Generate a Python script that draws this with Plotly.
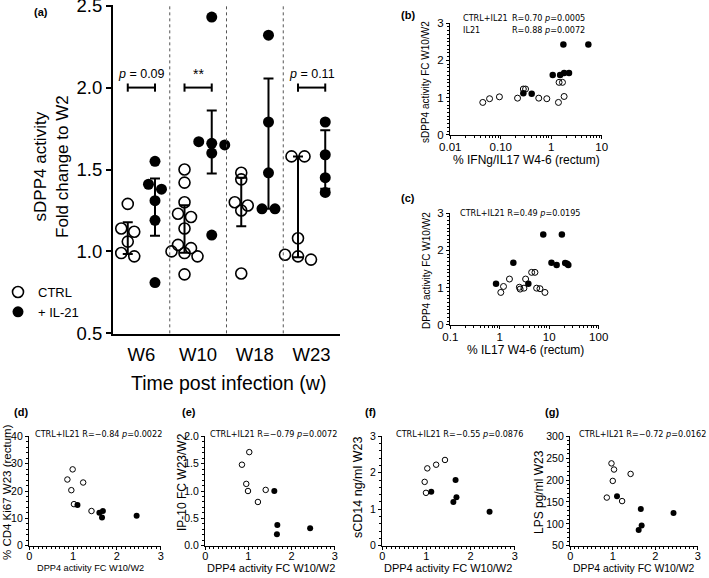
import numpy as np
import plotly.graph_objects as go

W, H = 709, 578

# ---------------- data ----------------
weeks = ["W6", "W10", "W18", "W23"]
a_ctrl = [
    [1.29, 1.14, 1.12, 1.06, 0.99, 0.97],
    [1.50, 1.42, 1.30, 1.23, 1.21, 1.14, 1.04, 1.02, 1.00, 0.99, 0.97, 0.86],
    [1.48, 1.44, 1.30, 1.28, 1.25, 0.865],
    [1.58, 1.58, 1.08, 0.98, 0.97, 0.95],
]
a_il21 = [
    [1.55, 1.41, 1.38, 1.31, 1.19, 0.81],
    [2.43, 1.67, 1.66, 1.65, 1.60, 1.10],
    [2.32, 1.79, 1.48, 1.26, 1.26],
    [1.79, 1.59, 1.45, 1.36],
]
a_sig = ["<i>p</i> = 0.09", "**", None, "<i>p</i> = 0.11"]

b_ctrl_x = [0.044, 0.060, 0.094, 0.215, 0.28, 0.31, 0.566, 0.817, 1.39, 1.43, 1.67, 1.80]
b_ctrl_y = [0.87, 0.97, 1.02, 0.985, 1.23, 1.23, 0.985, 0.97, 0.87, 1.41, 1.41, 1.03]
b_il21_x = [0.28, 0.41, 1.07, 1.50, 1.74, 1.80, 2.25, 5.44]
b_il21_y = [1.12, 1.10, 1.61, 1.61, 2.43, 1.66, 1.66, 2.43]

c_ctrl_x = [1.05, 1.19, 1.57, 2.49, 2.58, 3.08, 3.33, 4.41, 5.14, 5.56, 6.5, 8.19]
c_ctrl_y = [0.87, 1.03, 1.23, 1.01, 0.96, 0.985, 1.23, 1.41, 1.41, 0.985, 0.97, 0.87]
c_il21_x = [0.84, 1.88, 3.78, 7.57, 11.1, 14.1, 18.0, 21.0, 23.0, 24.3]
c_il21_y = [1.10, 1.67, 1.10, 2.43, 1.67, 1.61, 2.43, 1.66, 1.64, 1.61]

d_ctrl_x = [0.87, 0.99, 0.96, 1.02, 1.23, 1.42]
d_ctrl_y = [24.2, 27.9, 20.3, 15.2, 23.1, 12.7]
d_il21_x = [1.10, 1.60, 1.68, 1.66, 2.45]
d_il21_y = [14.9, 12.1, 12.7, 10.3, 11.0]

e_ctrl_x = [0.85, 1.02, 0.95, 0.99, 1.40, 1.22]
e_ctrl_y = [1.48, 1.71, 1.13, 1.00, 1.02, 0.80]
e_il21_x = [1.60, 1.67, 1.66, 2.43]
e_il21_y = [1.00, 0.38, 0.21, 0.32]

f_ctrl_x = [1.02, 1.22, 1.42, 0.96, 0.99]
f_ctrl_y = [2.12, 2.22, 2.35, 1.75, 1.45]
f_il21_x = [1.11, 1.66, 1.68, 1.61, 2.43]
f_il21_y = [1.48, 1.80, 1.33, 1.20, 0.93]

g_ctrl_x = [0.97, 1.03, 1.00, 0.86, 1.42, 1.22]
g_ctrl_y = [238, 224, 198, 160, 214, 152]
g_il21_x = [1.10, 1.66, 1.68, 1.61, 2.43]
g_il21_y = [163, 134, 96, 86, 125]

# ---------------- helpers ----------------
def fx(px):
    return px / W

def fy(py):
    return 1 - py / H

def rng(lo, hi):
    e = (hi - lo) * 0.002
    return [lo - e, hi + e]

ARIAL = "Liberation Sans, Arial, sans-serif"
VERD = "DejaVu Sans, Verdana, sans-serif"

fig = go.Figure()

# ---------------- panel (a) ----------------
A_X0, A_X1 = 113, 340
A_Y0, A_Y1 = 334, 5
px_per_cat = (A_X1 - A_X0) / 4.0
px_per_unit = (A_Y0 - A_Y1) / 2.0
GOFF = 0.24


def swarm(vals):
    """GraphPad-like spreading of points that fall in the same row."""
    order = np.argsort(-np.asarray(vals))
    offs = np.zeros(len(vals))
    groups = []
    for idx in order:
        if groups and (vals[groups[-1][0]] - vals[idx]) * px_per_unit < 5:
            groups[-1].append(idx)
        else:
            groups.append([idx])
    spacing = 13.0 / px_per_cat
    for g in groups:
        k = len(g)
        for j, idx in enumerate(g):
            offs[idx] = (j - (k - 1) / 2) * spacing
    return offs


for i, wk in enumerate(weeks):
    for grp, vals, sign in (("CTRL", a_ctrl[i], -1), ("IL21", a_il21[i], 1)):
        v = np.asarray(vals)
        q1, med, q3 = np.percentile(v, [25, 50, 75], method="weibull")
        fig.add_trace(go.Scatter(
            x=[i + sign * GOFF], y=[med], mode="markers",
            marker=dict(size=1, color="rgba(0,0,0,0)"),
            error_y=dict(type="data", symmetric=False, array=[q3 - med],
                         arrayminus=[med - q1], color="black", thickness=2, width=5),
            showlegend=False, hoverinfo="skip", xaxis="x", yaxis="y"))

for i, wk in enumerate(weeks):
    for grp, vals, sign in (("CTRL", a_ctrl[i], -1), ("IL21", a_il21[i], 1)):
        v = np.asarray(vals)
        xs = i + sign * GOFF + swarm(vals)
        if grp == "CTRL":
            mk = dict(symbol="circle-open", size=11, color="black", line=dict(width=1.6))
            name = "CTRL"
        else:
            mk = dict(symbol="circle", size=11, color="black")
            name = "+ IL-21"
        fig.add_trace(go.Scatter(
            x=xs, y=v, mode="markers", marker=mk, name=name,
            showlegend=(i == 0), legendgroup=grp, xaxis="x", yaxis="y"))

shapes = []
annotations = []
for i in range(1, 4):
    shapes.append(dict(type="line", xref="x", yref="y", x0=i - 0.5, x1=i - 0.5,
                       y0=0.5, y1=2.5, line=dict(color="#555", width=1, dash="dot")))
for i, s in enumerate(a_sig):
    if s is None:
        continue
    xl, xr = i - GOFF, i + GOFF
    shapes.append(dict(type="line", xref="x", yref="y", x0=xl, x1=xr, y0=2.0, y1=2.0,
                       line=dict(color="black", width=2)))
    for xx in (xl, xr):
        shapes.append(dict(type="line", xref="x", yref="y", x0=xx, x1=xx, y0=1.975, y1=2.025,
                           line=dict(color="black", width=2)))
    annotations.append(dict(x=i, y=2.0, xref="x", yref="y", text=s, showarrow=False,
                            yshift=14, yanchor="middle",
                            font=dict(family=ARIAL, size=12.5 if s != "**" else 14,
                                      color="black")))

annotations += [
    dict(x=fx(51), y=fy(167), text="sDPP4 activity<br>Fold change to W2",
         textangle=-90, font=dict(family=ARIAL, size=17)),
    dict(x=fx(228), y=fy(383), text="Time post infection (w)",
         font=dict(family=ARIAL, size=19.5)),
]

# ---------------- scatter panels (b)-(g) ----------------
def add_pair(ax, cx, cy, ix, iy, osz=6, fsz=6.5):
    fig.add_trace(go.Scatter(x=cx, y=cy, mode="markers", showlegend=False,
                             marker=dict(symbol="circle-open", size=osz, color="black", line=dict(width=1)),
                             xaxis="x" + ax, yaxis="y" + ax))
    fig.add_trace(go.Scatter(x=ix, y=iy, mode="markers", showlegend=False,
                             marker=dict(symbol="circle", size=fsz, color="black"),
                             xaxis="x" + ax, yaxis="y" + ax))

add_pair("2", b_ctrl_x, b_ctrl_y, b_il21_x, b_il21_y)
add_pair("3", c_ctrl_x, c_ctrl_y, c_il21_x, c_il21_y)
add_pair("4", d_ctrl_x, d_ctrl_y, d_il21_x, d_il21_y, 5.5, 6)
add_pair("5", e_ctrl_x, e_ctrl_y, e_il21_x, e_il21_y, 5.5, 6)
add_pair("6", f_ctrl_x, f_ctrl_y, f_il21_x, f_il21_y, 5.5, 6)
add_pair("7", g_ctrl_x, g_ctrl_y, g_il21_x, g_il21_y, 5.5, 6)


def small_axis(domain, anchor, fsize, **kw):
    d = dict(domain=domain, anchor=anchor, showline=True, linecolor="black", linewidth=1.2,
             ticks="outside", ticklen=3, tickwidth=1.2, tickcolor="black", showgrid=False,
             zeroline=False, automargin=False, ticklabeloverflow="allow",
             tickfont=dict(family=ARIAL, size=fsize, color="black"))
    d.update(kw)
    return d

layout_axes = dict(
    xaxis=dict(domain=[fx(A_X0), fx(A_X1)], anchor="y", range=[-0.5, 3.5],
               tickvals=[0, 1, 2, 3], ticktext=weeks, showline=True, linecolor="black",
               linewidth=2, ticks="outside", ticklen=3, tickcolor="rgba(0,0,0,0)",
               showgrid=False, zeroline=False, automargin=False, ticklabeloverflow="allow",
               tickfont=dict(family=ARIAL, size=18.5, color="black")),
    yaxis=dict(domain=[fy(A_Y0), fy(A_Y1)], anchor="x", range=rng(0.5, 2.5),
               tickmode="linear", tick0=0.5, dtick=0.5, tickformat=".1f",
               showline=True, linecolor="black", linewidth=2, ticks="outside", ticklen=5,
               tickwidth=2, tickcolor="black", showgrid=False, zeroline=False, automargin=False,
               ticklabeloverflow="allow",
               tickfont=dict(family=ARIAL, size=18.5, color="black")),
    xaxis2=small_axis([fx(450), fx(602)], "y2", 11.5, type="log", range=rng(-2, 1),
                      tickvals=[0.01, 0.1, 1, 10], ticktext=["0.01", "0.10", "1", "10"],
                      ticklabelstandoff=-2,
                      minor=dict(ticks="outside", ticklen=2, dtick="D1", tickcolor="black")),
    yaxis2=small_axis([fy(135), fy(23)], "x2", 11.5, range=rng(0, 3), tickmode="linear",
                      tick0=0, dtick=1,
                      minor=dict(ticks="outside", ticklen=2, dtick=0.1, tickcolor="black")),
    xaxis3=small_axis([fx(450), fx(599)], "y3", 11.5, type="log", range=rng(-1, 2),
                      tickvals=[0.1, 1, 10, 100], ticktext=["0.1", "1", "10", "100"],
                      ticklabelstandoff=-2,
                      minor=dict(ticks="outside", ticklen=2, dtick="D1", tickcolor="black")),
    yaxis3=small_axis([fy(325), fy(213)], "x3", 11.5, range=rng(0, 3), tickmode="linear",
                      tick0=0, dtick=1,
                      minor=dict(ticks="outside", ticklen=2, dtick=0.1, tickcolor="black")),
)
bottom = [("4", 29, 161, [0, 40], 10, None), ("5", 205, 335, [0, 2], 0.5, ".1f"),
          ("6", 382, 515, [0, 3], 1, None), ("7", 570, 698, [50, 300], 50, None)]
for ax, x0, x1, yr, dt, fmt in bottom:
    layout_axes["xaxis" + ax] = small_axis([fx(x0), fx(x1)], "y" + ax, 11, range=rng(0, 3),
                                          tickmode="linear", tick0=0, dtick=1,
                                          ticklabelstandoff=-3,
                                          minor=dict(ticks="outside", ticklen=2, dtick=0.1,
                                                     tickcolor="black"))
    yk = dict(range=rng(*yr), tickmode="linear", tick0=yr[0], dtick=dt,
              minor=dict(ticks="outside", ticklen=2, dtick=dt / 5, tick0=yr[0], tickcolor="black"))
    if fmt:
        yk["tickformat"] = fmt
    layout_axes["yaxis" + ax] = small_axis([fy(546), fy(436)], "x" + ax, 10.5, **yk)

# axis titles for (b)-(g)
annotations += [
    dict(x=fx(526), y=fy(160), text="% IFNg/IL17 W4-6 (rectum)", font=dict(family=ARIAL, size=12)),
    dict(x=fx(525), y=fy(350), text="% IL17 W4-6 (rectum)", font=dict(family=ARIAL, size=12)),
    dict(x=fx(426), y=fy(82), text="sDPP4 activity FC W10/W2", textangle=-90, font=dict(family=ARIAL, size=10)),
    dict(x=fx(426), y=fy(270), text="DPP4 activity FC W10/W2", textangle=-90, font=dict(family=ARIAL, size=10)),
    dict(x=fx(90), y=fy(568), text="DPP4 activity FC W10/W2", font=dict(family=ARIAL, size=9.2)),
    dict(x=fx(271), y=fy(568), text="DPP4 activity FC W10/W2", font=dict(family=ARIAL, size=11)),
    dict(x=fx(448), y=fy(568), text="DPP4 activity FC W10/W2", font=dict(family=ARIAL, size=11)),
    dict(x=fx(633), y=fy(568), text="DPP4 activity FC W10/W2", font=dict(family=ARIAL, size=10.4)),
    dict(x=fx(7), y=fy(492), text="% CD4 Ki67 W23 (rectum)", textangle=-90, font=dict(family=ARIAL, size=11.5)),
    dict(x=fx(182), y=fy(482), text="IP-10 FC W23/W2", textangle=-90, font=dict(family=ARIAL, size=12)),
    dict(x=fx(358), y=fy(488), text="sCD14 ng/ml W23", textangle=-90, font=dict(family=ARIAL, size=12.5)),
    dict(x=fx(539), y=fy(492), text="LPS pg/ml W23", textangle=-90, font=dict(family=ARIAL, size=12)),
]
# statistics text
stat = [
    (461, 18, "CTRL+IL21"), (510, 18, "R=0.70 <i>p</i>=0.0005"),
    (461, 30, "IL21"), (510, 30, "R=0.88 <i>p</i>=0.0072"),
    (458, 213, "CTRL+IL21 R=0.49 <i>p</i>=0.0195"),
    (33, 434, "CTRL+IL21 R=\u22120.84 <i>p</i>=0.0022"),
    (208, 434, "CTRL+IL21 R=\u22120.79 <i>p</i>=0.0072"),
    (394, 434, "CTRL+IL21 R=\u22120.55 <i>p</i>=0.0876"),
    (577, 434, "CTRL+IL21 R=\u22120.72 <i>p</i>=0.0162"),
]
for x, y, t in stat:
    annotations.append(dict(x=fx(x), y=fy(y), text=t, xanchor="left",
                            font=dict(family=VERD, size=8.1)))
# panel letters
for x, y, t in [(32, 12, "(a)"), (399, 15, "(b)"), (399, 198, "(c)"), (12, 412, "(d)"),
                (180, 412, "(e)"), (363, 412, "(f)"), (543, 412, "(g)")]:
    annotations.append(dict(x=fx(x), y=fy(y), text="<b>" + t + "</b>", xanchor="left",
                            font=dict(family=ARIAL, size=11)))

for a in annotations:
    a.setdefault("xref", "paper")
    a.setdefault("yref", "paper")
    a.setdefault("showarrow", False)
    a.setdefault("xanchor", "center")
    a.setdefault("yanchor", "middle")
    a.setdefault("font", {})
    a["font"].setdefault("color", "black")

fig.update_layout(
    width=W, height=H, margin=dict(l=0, r=0, t=0, b=0, pad=0, autoexpand=False),
    paper_bgcolor="white", plot_bgcolor="white",
    shapes=shapes, annotations=annotations,
    legend=dict(x=-2 / W, y=fy(277), xanchor="left", yanchor="top", tracegroupgap=0,
                bgcolor="rgba(0,0,0,0)", font=dict(family=ARIAL, size=13, color="black"),
                itemwidth=30),
    **layout_axes,
)

fig.write_html("out.html", config={"displayModeBar": False},
               post_script="document.body.style.margin='0px';")
